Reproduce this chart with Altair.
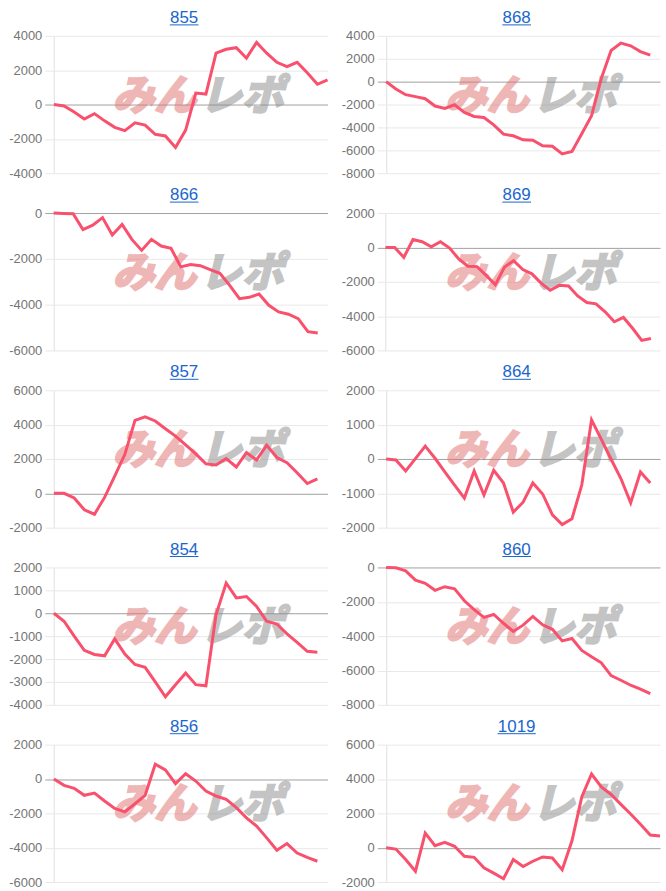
import altair as alt
import pandas as pd

titles = ["855", "868", "866", "869", "857", "864", "854", "860", "856", "1019"]

s855 = [0, -80, -440, -840, -530, -950, -1330, -1520, -1070, -1200, -1730, -1830, -2500, -1490,
        670, 610, 2990, 3220, 3310, 2700, 3620, 2990, 2460, 2210, 2460, 1850, 1180, 1430]
s868 = [0, -640, -1140, -1310, -1490, -2130, -2340, -2020, -2690, -3040, -3130, -3770, -4590, -4730,
        -5080, -5110, -5610, -5640, -6310, -6100, -4560, -2980, 290, 2720, 3360, 3130, 2630, 2310]
s866 = [0, -15, -30, -720, -530, -200, -960, -500, -1150, -1630, -1150, -1440, -1540, -2350,
        -2250, -2300, -2470, -2630, -3160, -3740, -3680, -3540, -4030, -4320, -4420, -4610, -5180, -5240]
s869 = [0, 0, -580, 460, 330, 40, 330, -40, -670, -1100, -1120, -1630, -2170, -1150, -770,
        -1290, -1540, -2080, -2500, -2210, -2250, -2830, -3210, -3290, -3750, -4330, -4080, -4710, -5420, -5310]
s857 = [0, 0, -270, -960, -1220, -240, 1000, 2270, 4250, 4450, 4210, 3760, 3330, 2820,
        2290, 1710, 1650, 2020, 1530, 2370, 1940, 2800, 2080, 1780, 1200, 570, 840]
s864 = [0, -30, -350, 10, 375, 20, -375, -760, -1140, -350, -1050, -330, -700, -1550,
        -1260, -700, -1020, -1630, -1910, -1740, -760, 1140, 570, -10, -570, -1280, -380, -700]
s854 = [0, -350, -1000, -1620, -1800, -1860, -1120, -1780, -2240, -2360, -3000, -3650, -3120, -2610,
        -3120, -3170, -60, 1320, 670, 730, 300, -350, -470, -900, -1270, -1660, -1700]
s860 = [0, -20, -200, -740, -920, -1330, -1120, -1250, -1940, -2460, -2910, -2740, -3250, -3730,
        -3360, -2850, -3340, -3600, -4280, -4140, -4830, -5200, -5550, -6300, -6570, -6860, -7080, -7350]
s856 = [0, -370, -540, -950, -820, -1280, -1710, -1910, -1440, -950, 860, 530, -270, 310,
        -120, -700, -990, -1190, -1670, -2260, -2740, -3430, -4150, -3760, -4310, -4560, -4790]
s1019 = [0, -80, -690, -1370, 850, 120, 310, 80, -500, -560, -1170, -1480, -1810, -690, -1100,
         -790, -540, -600, -1290, 400, 2960, 4290, 3540, 3100, 2520, 1960, 1370, 740, 680]

series = [s855, s868, s866, s869, s857, s864, s854, s860, s856, s1019]
slots = [28, 29, 29, 31, 28, 29, 28, 29, 28, 29]
y_min = [-4000, -8000, -6000, -6000, -2000, -2000, -4000, -8000, -6000, -2000]
y_max = [4000, 4000, 0, 2000, 6000, 2000, 2000, 0, 2000, 6000]
y_step = [2000, 2000, 2000, 2000, 2000, 1000, 1000, 2000, 2000, 2000]

W, H = 284, 138
LINE = "#f9506e"
BLUE = "#1a66cc"


def panel(t, vals, n, lo, hi, step):
    df = pd.DataFrame({"x": list(range(len(vals))), "v": vals})
    ticks = list(range(lo, hi + 1, step))
    line = alt.Chart(df).mark_line(color=LINE, strokeWidth=3).encode(
        x=alt.X("x:Q",
                scale=alt.Scale(domain=[-0.9, n - 1], nice=False, zero=False),
                axis=alt.Axis(values=[0], grid=True, gridColor="#e0e0e0", labels=False,
                              ticks=False, domain=False, title=None)),
        y=alt.Y("v:Q",
                scale=alt.Scale(domain=[lo, hi], nice=False, zero=False),
                axis=alt.Axis(values=ticks, grid=True, labelExpr="'' + datum.value",
                              gridColor={"condition": {"test": "datum.value === 0", "value": "#a0a0a0"},
                                         "value": "#e8e8e8"},
                              domain=False, ticks=False, labelPadding=3, labelFont="Arial",
                              labelFontSize=13, labelColor="#757575", title=None)),
    )
    tdf = pd.DataFrame({"a": ["みん"], "b": ["レポ"], "t": [t]})
    wm1 = alt.Chart(tdf).mark_text(font="Noto Sans CJK JP", fontSize=42, fontWeight="bold",
                                   fontStyle="italic", align="right", baseline="middle",
                                   color="#e07070", stroke="#e07070", strokeWidth=2.5,
                                   opacity=0.5).encode(
        text="a:N", x=alt.value(152), y=alt.value(61))
    wm2 = alt.Chart(tdf).mark_text(font="Noto Sans CJK JP", fontSize=42, fontWeight="bold",
                                   fontStyle="italic", align="left", baseline="middle",
                                   color="#8a8a8a", stroke="#8a8a8a", strokeWidth=2.5,
                                   opacity=0.5).encode(
        text="b:N", x=alt.value(156), y=alt.value(61))
    ttl = alt.Chart(tdf).mark_text(font="Arial", fontSize=17, color=BLUE, align="center",
                                   baseline="alphabetic").encode(
        text="t:N", x=alt.value(140), y=alt.value(-13))
    half = len(t) * 4.8
    ul = alt.Chart(tdf).mark_rule(color=BLUE, strokeWidth=1).encode(
        x=alt.value(140 - half), x2=alt.value(140 + half), y=alt.value(-11))
    return alt.layer(wm1, wm2, line, ttl, ul).properties(width=W, height=H)


panels = [panel(titles[i], series[i], slots[i], y_min[i], y_max[i], y_step[i]) for i in range(10)]

chart = alt.concat(*panels, columns=2, spacing={"row": 40, "column": 50}, bounds="flush").properties(
    padding={"left": 8, "top": 7, "right": 0, "bottom": 0}
).configure_view(strokeWidth=0)

chart.save("out.html", embed_options={"renderer": "svg", "actions": False})
